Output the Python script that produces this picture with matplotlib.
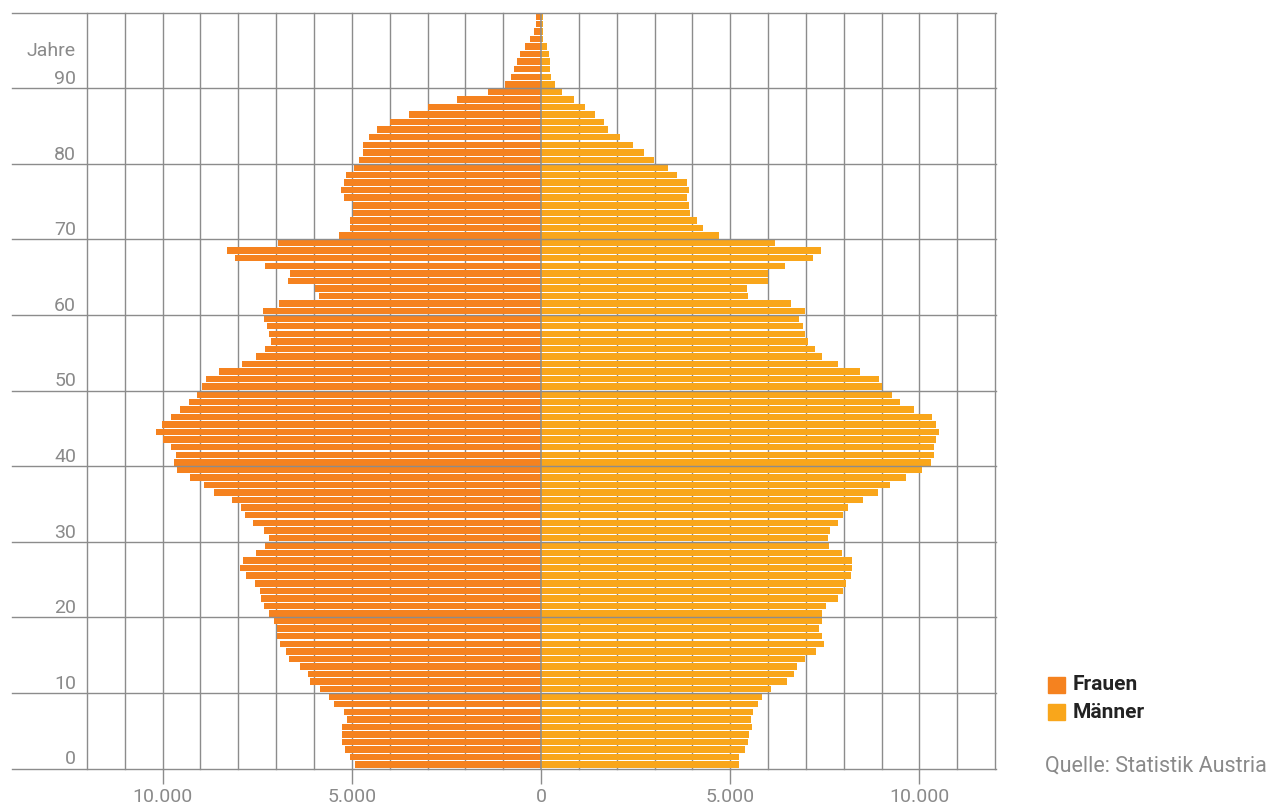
import matplotlib
matplotlib.use("Agg")
import matplotlib.pyplot as plt
import numpy as np
from matplotlib.transforms import blended_transform_factory

ages = list(range(0, 100))

frauen = [4920, 5050, 5180, 5260, 5260, 5260, 5130, 5210, 5470, 5610,
          5850, 6110, 6160, 6370, 6670, 6740, 6900, 6990, 6990, 7050,
          7190, 7320, 7410, 7430, 7570, 7800, 7950, 7880, 7540, 7300,
          7190, 7320, 7610, 7830, 7940, 8170, 8650, 8920, 9290, 9630,
          9710, 9640, 9780, 10000, 10170, 10020, 9780, 9550, 9300, 9100,
          8960, 8850, 8510, 7910, 7540, 7300, 7130, 7190, 7240, 7320,
          7350, 6930, 5880, 5980, 6680, 6640, 7300, 8090, 8300, 6960,
          5350, 5050, 5050, 4980, 4980, 5210, 5290, 5210, 5160, 4950,
          4810, 4710, 4710, 4540, 4340, 4000, 3490, 2990, 2220, 1400,
          950, 790, 710, 630, 550, 420, 285, 180, 125, 125]

maenner = [5230, 5230, 5380, 5470, 5490, 5570, 5550, 5600, 5740, 5830,
           6090, 6500, 6680, 6760, 6990, 7260, 7470, 7430, 7350, 7430,
           7430, 7520, 7850, 7980, 8060, 8200, 8230, 8230, 7950, 7610,
           7580, 7630, 7850, 7970, 8110, 8510, 8900, 9230, 9640, 10060,
           10300, 10390, 10390, 10430, 10510, 10430, 10330, 9850, 9500, 9270,
           9010, 8930, 8420, 7850, 7430, 7240, 7070, 6990, 6920, 6810,
           6980, 6610, 5470, 5440, 6000, 6000, 6450, 7180, 7400, 6190,
           4710, 4290, 4120, 3950, 3910, 3850, 3910, 3850, 3600, 3360,
           2980, 2710, 2430, 2080, 1770, 1660, 1430, 1160, 870, 560,
           380, 275, 250, 250, 220, 170, 55, 55, 50, 50]

y_ticks = [0, 10, 20, 30, 40, 50, 60, 70, 80, 90]
x_ticks = [-10000, -5000, 0, 5000, 10000]
x_ticklabels = ["10.000", "5.000", "0", "5.000", "10.000"]

c_f = "#F5821F"
c_m = "#F9A61B"
grid_c = "#8c8c8c"
txt_c = "#8a8a8a"

plt.rcParams['font.family'] = ['Roboto', 'DejaVu Sans']

fig = plt.figure(figsize=(12.79, 8.07), dpi=100)
W, H = 1279, 807
ax_l, ax_r, ax_t, ax_b = 87, 995, 12.5, 768.5
ax = fig.add_axes([ax_l / W, 1 - ax_b / H, (ax_r - ax_l) / W, (ax_b - ax_t) / H])

y = np.array(ages) + 0.5
ax.barh(y, -np.array(frauen), height=0.86, color=c_f, zorder=2, linewidth=0)
ax.barh(y, np.array(maenner), height=0.86, color=c_m, zorder=2, linewidth=0)

ax.set_xlim(-12000, 12000)
ax.set_ylim(0, 100)

# vertical grid
for v in range(-12000, 12001, 1000):
    if v == 0:
        continue
    ax.axvline(v, color=grid_c, lw=1.0, zorder=1, clip_on=False)
ax.axvline(0, color=grid_c, lw=1.1, zorder=3)

# horizontal grid lines extending into the label area
tr = blended_transform_factory(fig.transFigure, ax.transData)
x0 = 12 / W
x1 = (ax_r + 0.5) / W
for h in y_ticks + [100]:
    ln = plt.Line2D([x0, x1], [h, h], transform=tr, color=grid_c, lw=1.0,
                    zorder=1, clip_on=False)
    fig.add_artist(ln)

for s in ax.spines.values():
    s.set_visible(False)
ax.set_yticks([])
ax.set_xticks(x_ticks)
ax.set_xticklabels(x_ticklabels)
ax.tick_params(axis='x', length=11, width=1.0, color=grid_c, labelcolor=txt_c,
               labelsize=14, pad=3)

# y labels
xl = -12290
for t in y_ticks:
    ax.text(xl, t + 0.55, str(t), ha='right', va='baseline', fontsize=14,
            color=txt_c)
ax.text(xl, 94.3, "Jahre", ha='right', va='baseline', fontsize=14,
        color=txt_c)

# legend
fig.patches.append(plt.Rectangle((1048 / W, 1 - 693 / H), 17 / W, 16.5 / H,
                                 transform=fig.transFigure, color=c_f))
fig.patches.append(plt.Rectangle((1048 / W, 1 - 720 / H), 17 / W, 16.5 / H,
                                 transform=fig.transFigure, color=c_m))
fig.text(1073 / W, 1 - 685 / H, "Frauen", ha='left', va='center', fontsize=15,
         fontweight='bold', color='#222222')
fig.text(1073 / W, 1 - 712 / H, "Männer", ha='left', va='center', fontsize=15,
         fontweight='bold', color='#222222')
fig.text(1045 / W, 1 - 766 / H, "Quelle: Statistik Austria", ha='left',
         va='center', fontsize=15.5, color=txt_c)

fig.savefig("out.png", dpi=100)
